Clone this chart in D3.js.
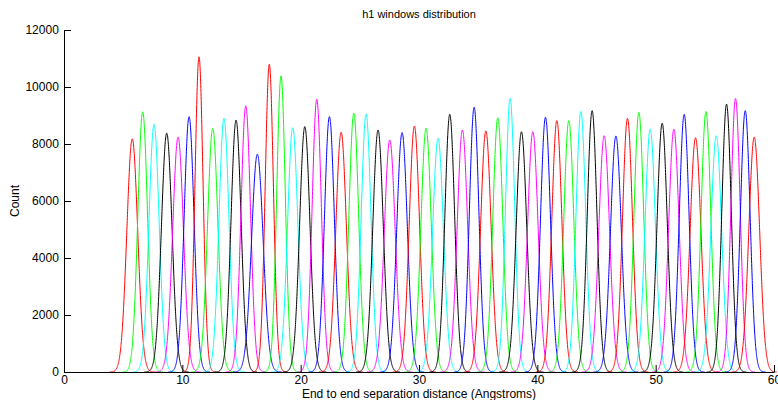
<!DOCTYPE html>
<html>
<head>
<meta charset="utf-8">
<script src="https://cdn.jsdelivr.net/npm/d3@7"></script>
<style>
  body { margin: 0; background: #fff; }
  svg { display: block; font-family: "Liberation Sans", Arial, sans-serif; }
</style>
</head>
<body>
<div id="viz"></div>
<script>
// window centres (Angstroms) and peak heights (counts)
var centers = [5.77, 6.65, 7.61, 8.68, 9.64, 10.57, 11.41, 12.57, 13.52, 14.54,
  15.36, 16.34, 17.35, 18.34, 19.33, 20.35, 21.36, 22.43, 23.42, 24.49,
  25.53, 26.54, 27.53, 28.57, 29.61, 30.6, 31.61, 32.6, 33.67, 34.66,
  35.65, 36.66, 37.7, 38.66, 39.62, 40.69, 41.65, 42.66, 43.68, 44.63,
  45.65, 46.64, 47.62, 48.58, 49.54, 50.55, 51.54, 52.41, 53.37, 54.25,
  55.12, 55.99, 56.75, 57.57, 58.33];
var heights = [8180, 9130, 8690, 8380, 8240, 8960, 11060, 8550, 8900, 8840,
  9340, 7640, 10800, 10390, 8570, 8610, 9570, 8960, 8410, 9080,
  9050, 8490, 8140, 8400, 8630, 8550, 8200, 9040, 8490, 9290,
  8460, 8920, 9600, 8430, 8430, 8940, 8820, 8820, 9140, 9170,
  8290, 8280, 8900, 9110, 8520, 8730, 8520, 9040, 8220, 9140,
  8290, 9400, 9600, 9170, 8240];
var peakArea = 9400; // same number of samples in every window
var lineColors = ['#ff0000', '#00ff00', '#00ffff', '#000000', '#ff00ff', '#0000ff'];
var xTicks = [0, 10, 20, 30, 40, 50, 60];
var yTicks = [0, 2000, 4000, 6000, 8000, 10000, 12000];

var W = 778, H = 400;
var margin = {top: 30, right: 4, bottom: 28, left: 64};

var svg = d3.select('#viz').append('svg')
  .attr('width', W)
  .attr('height', H);

var x = d3.scaleLinear().domain([0, 60]).range([margin.left, W - margin.right]);
var y = d3.scaleLinear().domain([0, 12000]).range([H - margin.bottom, margin.top]);

// build each window histogram curve
var windows = centers.map(function(c, i) {
  var h = heights[i];
  var s = peakArea / (h * Math.sqrt(2 * Math.PI));
  var pts = [];
  for (var t = c - 4.2 * s; t <= c + 4.2 * s; t += 0.01) {
    pts.push([t, h * Math.exp(-(t - c) * (t - c) / (2 * s * s))]);
  }
  return {i: i, pts: pts};
});

var line = d3.line()
  .x(function(d) { return x(d[0]); })
  .y(function(d) { return y(d[1]); });

svg.append('g').selectAll('path')
  .data(windows)
  .enter().append('path')
  .attr('d', function(d) { return line(d.pts); })
  .attr('fill', 'none')
  .attr('stroke', function(d) { return lineColors[d.i % 6]; })
  .attr('stroke-width', 1);

// axes, matlab style ticks pointing inward
var xAxis = svg.append('g')
  .attr('transform', 'translate(0,' + (H - margin.bottom) + ')')
  .call(d3.axisBottom(x).tickValues(xTicks).tickFormat(d3.format('d'))
    .tickSizeInner(-7).tickSizeOuter(0).tickPadding(3));
var yAxis = svg.append('g')
  .attr('transform', 'translate(' + margin.left + ',0)')
  .call(d3.axisLeft(y).tickValues(yTicks).tickFormat(d3.format('d'))
    .tickSizeInner(-7).tickSizeOuter(0).tickPadding(4));

[xAxis, yAxis].forEach(function(a) {
  a.selectAll('text').attr('font-size', 12).attr('fill', '#000').attr('font-family', '"Liberation Sans", Arial, sans-serif');
  a.selectAll('line').attr('stroke', '#000');
  a.select('.domain').attr('stroke', '#000');
});
yAxis.selectAll('text').attr('dx', '-0.1em');

svg.append('text')
  .attr('x', (margin.left + W - margin.right) / 2)
  .attr('y', 18)
  .attr('text-anchor', 'middle')
  .attr('font-size', 11)
  .text('h1 windows distribution');

svg.append('text')
  .attr('x', (margin.left + W - margin.right) / 2)
  .attr('y', 397.5)
  .attr('text-anchor', 'middle')
  .attr('font-size', 12)
  .text('End to end separation distance (Angstroms)');

svg.append('text')
  .attr('transform', 'translate(19,' + ((margin.top + H - margin.bottom) / 2) + ') rotate(-90)')
  .attr('text-anchor', 'middle')
  .attr('font-size', 12)
  .text('Count');
</script>
</body>
</html>
